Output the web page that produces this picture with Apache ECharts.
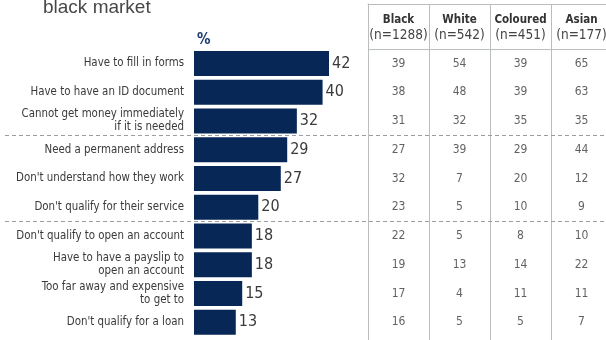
<!DOCTYPE html>
<html><head><meta charset="utf-8">
<script src="https://cdn.jsdelivr.net/npm/echarts@6/dist/echarts.min.js"></script>
<style>html,body{margin:0;padding:0;background:#fff}#c{width:606px;height:340px}</style>
</head><body><div id="c"></div>
<script>
// Reasons for not using formal financial services
const reasons = [
  'Have to fill in forms',
  'Have to have an ID document',
  'Cannot get money immediately\nif it is needed',
  'Need a permanent address',
  "Don't understand how they work",
  "Don't qualify for their service",
  "Don't qualify to open an account",
  'Have to have a payslip to\nopen an account',
  'Too far away and expensive\nto get to',
  "Don't qualify for a loan"
];
// Overall share, %
const totals = [42, 40, 32, 29, 27, 20, 18, 18, 15, 13];
// Breakdown by population group, %
const groups = ['Black', 'White', 'Coloured', 'Asian'];
const groupSizes = ['(n=1288)', '(n=542)', '(n=451)', '(n=177)'];
const black = [39, 38, 31, 27, 32, 23, 22, 19, 17, 16];
const white = [54, 48, 32, 39, 7, 5, 5, 13, 4, 5];
const coloured = [39, 39, 35, 29, 20, 10, 8, 14, 11, 5];
const asian = [65, 63, 35, 44, 12, 9, 10, 22, 11, 7];
// Dividers between the three reason clusters (between row indices)
const sectionBreaks = [2.5, 5.5];

const FONT = "'Liberation Sans Narrow', 'DejaVu Sans Condensed', sans-serif";
const BAR = '#072757';
const RULE = '#b9bdbd';
const TEXT = '#3a3a3a';

// Shared row geometry so the table rows line up with the bars
const H = 340;
const ROW_TOP = 49.1, ROW_H = 28.75, N = reasons.length;
const TABLE_TOP = 4;
const vAt = y => (y - ROW_TOP) / ROW_H - 0.5;
const rowMin = vAt(TABLE_TOP), rowMax = vAt(H);

const columns = [black, white, coloured, asian];

const chart = echarts.init(document.getElementById('c'), null, {renderer: 'canvas'});
chart.setOption({
  animation: false,
  backgroundColor: '#fff',
  title: [
    {text: 'black market', left: 43, top: -2, padding: 0, textStyle: {fontFamily: 'Liberation Sans, Arial, sans-serif', fontSize: 19, fontWeight: 'normal', color: '#474747'}},
    {text: '%', left: 197, top: 33, padding: 0, textStyle: {fontFamily: FONT, fontSize: 15, fontWeight: 'bold', color: '#1d3c74'}}
  ],
  grid: [
    {left: 194, top: ROW_TOP, width: 50 * (135 / 42), height: ROW_H * N, outerBoundsMode: 'none', containLabel: false},
    {left: 368, top: TABLE_TOP, right: -6, bottom: 0, outerBoundsMode: 'none', containLabel: false},
    {left: 5, top: TABLE_TOP, right: 0, bottom: 0, outerBoundsMode: 'none', containLabel: false}
  ],
  xAxis: [
    {gridIndex: 0, type: 'value', min: 0, max: 50, show: false},
    {
      gridIndex: 1, type: 'category', data: groups, position: 'top',
      axisLine: {show: true, onZero: false, lineStyle: {color: RULE, width: 1}},
      axisTick: {show: false, interval: 0},
      splitLine: {show: true, interval: 0, lineStyle: {color: RULE, width: 1}},
      axisLabel: {
        inside: true, margin: 8, interval: 0,
        formatter: (v, i) => '{b|' + v + '}\n{n|' + groupSizes[i] + '}',
        rich: {
          b: {fontFamily: FONT, fontSize: 11.5, fontWeight: 'bold', color: '#333', lineHeight: 16},
          n: {fontFamily: FONT, fontSize: 13.5, color: '#444', lineHeight: 15}
        }
      }
    },
    {gridIndex: 2, type: 'value', min: 0, max: 1, show: false}
  ],
  yAxis: [
    {
      gridIndex: 0, type: 'category', data: reasons, inverse: true,
      axisLine: {show: false}, axisTick: {show: false},
      axisLabel: {margin: 10, interval: 0, fontFamily: FONT, fontSize: 11.4, color: TEXT, lineHeight: 13}
    },
    {gridIndex: 1, type: 'value', inverse: true, min: rowMin, max: rowMax,
      axisLine: {show: true, onZero: false, lineStyle: {color: RULE}}, axisTick: {show: false},
      axisLabel: {show: false}, splitLine: {show: false}},
    {gridIndex: 2, type: 'value', inverse: true, min: rowMin, max: rowMax, show: false}
  ],
  series: [
    {
      type: 'bar', xAxisIndex: 0, yAxisIndex: 0, data: totals, barWidth: 25,
      itemStyle: {color: BAR},
      label: {show: true, position: 'right', distance: 3, fontFamily: FONT, fontSize: 16, color: TEXT}
    },
    ...columns.map((col, c) => ({
      type: 'scatter', xAxisIndex: 1, yAxisIndex: 1, symbolSize: 0,
      data: col.map((v, r) => [c, r, v]),
      label: {show: true, position: 'inside', formatter: p => p.value[2],
        fontFamily: FONT, fontSize: 12, color: TEXT},
      markLine: c === 0 ? {
        silent: true, symbol: 'none', label: {show: false},
        lineStyle: {color: RULE, type: 'solid', width: 1},
        data: [{yAxis: -0.5}]
      } : undefined
    })),
    {
      type: 'line', xAxisIndex: 2, yAxisIndex: 2, data: [],
      markLine: {
        silent: true, symbol: 'none', label: {show: false},
        lineStyle: {color: '#9a9e9e', type: [4, 3], width: 1},
        data: sectionBreaks.map(v => ({yAxis: v}))
      }
    }
  ]
});
</script>
</body></html>
